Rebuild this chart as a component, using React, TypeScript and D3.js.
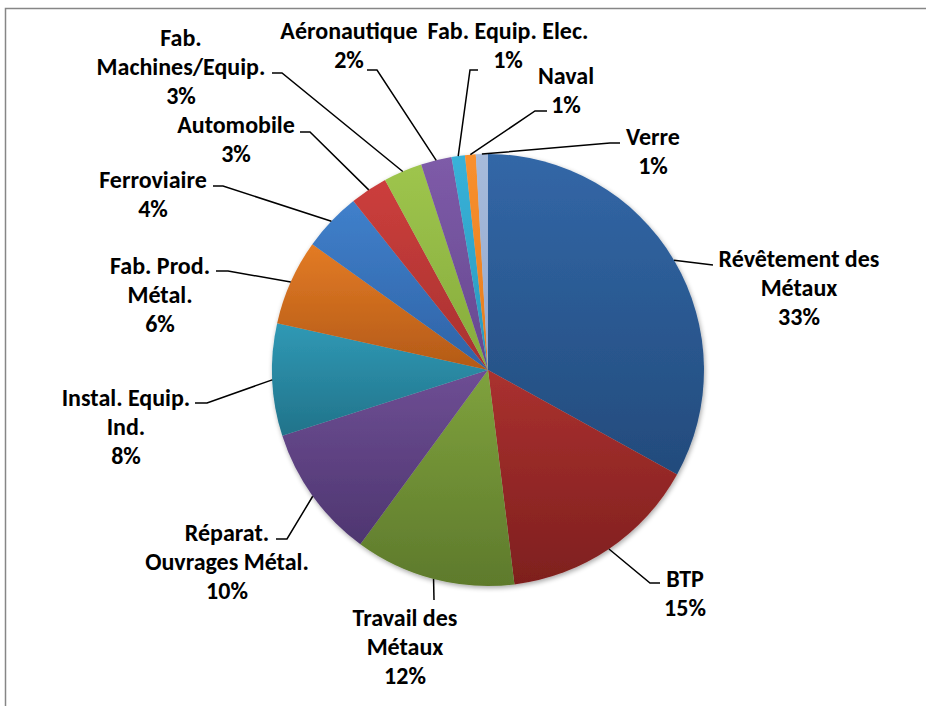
import React from "react";
import * as d3 from "d3";

const categories = [
  "Révêtement des Métaux",
  "BTP",
  "Travail des Métaux",
  "Réparat. Ouvrages Métal.",
  "Instal. Equip. Ind.",
  "Fab. Prod. Métal.",
  "Ferroviaire",
  "Automobile",
  "Fab. Machines/Equip.",
  "Aéronautique",
  "Fab. Equip. Elec.",
  "Naval",
  "Verre",
];
const labelLines = [
  ["Révêtement des", "Métaux"],
  ["BTP"],
  ["Travail des", "Métaux"],
  ["Réparat.", "Ouvrages Métal."],
  ["Instal. Equip.", "Ind."],
  ["Fab. Prod.", "Métal."],
  ["Ferroviaire"],
  ["Automobile"],
  ["Fab.", "Machines/Equip."],
  ["Aéronautique"],
  ["Fab. Equip. Elec."],
  ["Naval"],
  ["Verre"],
];
const values = [33, 15, 12, 10, 8.4, 6.4, 4.4, 2.8, 2.9, 2.3, 1.0, 0.8, 0.9];

// [top colour, bottom colour] gradient per slice
const colors = [
  ["#3267A7", "#234B7C"],
  ["#AA312F", "#7E1F1E"],
  ["#7FA23D", "#5E7A2C"],
  ["#6E4E94", "#4E3670"],
  ["#3099B5", "#21738A"],
  ["#E37B25", "#B35A17"],
  ["#4080CB", "#2F63A6"],
  ["#CC3E3C", "#A83230"],
  ["#9EC54D", "#86AB3C"],
  ["#7E5BA8", "#664890"],
  ["#38B2D9", "#2A98BC"],
  ["#F9902E", "#E47C1E"],
  ["#A7BBDB", "#93A9CF"],
];

// label layout: text centre x, first-line centre y, elbow, end of leader
const labelLayout = [
  { cx: 799, y: 258, elbow: [713, 265], end: [713, 265] },
  { cx: 685, y: 578, elbow: [650, 583], end: [660, 583] },
  { cx: 405, y: 617, elbow: [434, 600], end: [434, 600] },
  { cx: 227, y: 532, elbow: [287, 539], end: [276, 539] },
  { cx: 126, y: 397, elbow: [207, 403], end: [195, 403] },
  { cx: 160, y: 265, elbow: [228, 271], end: [216, 271] },
  { cx: 153, y: 179, elbow: [223, 186], end: [213, 186] },
  { cx: 236, y: 124, elbow: [310, 132], end: [300, 132] },
  { cx: 181, y: 37, elbow: [282, 73], end: [272, 73] },
  { cx: 349, y: 30, elbow: [377, 70], end: [367, 70] },
  { cx: 508, y: 30, elbow: [470, 70], end: [478, 70] },
  { cx: 566, y: 75, elbow: [535, 111], end: [547, 111] },
  { cx: 653, y: 136, elbow: [610, 143], end: [620, 143] },
];

const W = 926;
const H = 706;
const CX = 488;
const CY = 370;
const R = 216;
const LINE_H = 29;
const FONT = "Carlito, Calibri, Lato, 'Open Sans', sans-serif";

export default function App() {
  const total = d3.sum(values);
  const pie = d3.pie<number>().value((d) => d).sort(null);
  const arcs = pie(values);
  const arcGen = d3.arc<d3.PieArcDatum<number>>().innerRadius(0).outerRadius(R);

  return (
    <svg
      width={W}
      height={H}
      style={{ position: "absolute", left: 0, top: 0, background: "#fff" }}
    >
      <defs>
        {colors.map((c, i) => (
          <linearGradient key={i} id={`g${i}`} x1="0" y1="0" x2="0" y2="1">
            <stop offset="0" stopColor={c[0]} />
            <stop offset="1" stopColor={c[1]} />
          </linearGradient>
        ))}
        <filter id="shadow" x="-10%" y="-10%" width="120%" height="120%">
          <feGaussianBlur in="SourceAlpha" stdDeviation="2.5" />
          <feOffset dx="1" dy="2" result="b" />
          <feComponentTransfer>
            <feFuncA type="linear" slope="0.35" />
          </feComponentTransfer>
          <feMerge>
            <feMergeNode />
            <feMergeNode in="SourceGraphic" />
          </feMerge>
        </filter>
      </defs>
      <rect x={5.5} y={8.5} width={W + 20} height={H + 20} fill="#fff" stroke="#868686" strokeWidth={1.5} />
      <g transform={`translate(${CX},${CY})`} filter="url(#shadow)">
        {arcs.map((a, i) => (
          <path key={i} d={arcGen(a) || ""} fill={`url(#g${i})`} />
        ))}
      </g>
      {arcs.map((a, i) => {
        const mid = (a.startAngle + a.endAngle) / 2;
        const sx = CX + R * Math.sin(mid);
        const sy = CY - R * Math.cos(mid);
        const L = labelLayout[i];
        const pts = [[sx, sy], L.elbow, L.end];
        const pct = Math.round((values[i] / total) * 100) + "%";
        const lines = [...labelLines[i], pct];
        return (
          <g key={"l" + i}>
            <polyline
              points={pts.map((p) => p.join(",")).join(" ")}
              fill="none"
              stroke="#000"
              strokeWidth={1.5}
            />
            {lines.map((t, j) => (
              <text
                key={j}
                x={L.cx}
                y={L.y + j * LINE_H}
                textAnchor="middle"
                dominantBaseline="central"
                fontFamily={FONT}
                fontWeight="bold"
                fontSize={24}
                fill="#000"
              >
                {t}
              </text>
            ))}
          </g>
        );
      })}
    </svg>
  );
}
